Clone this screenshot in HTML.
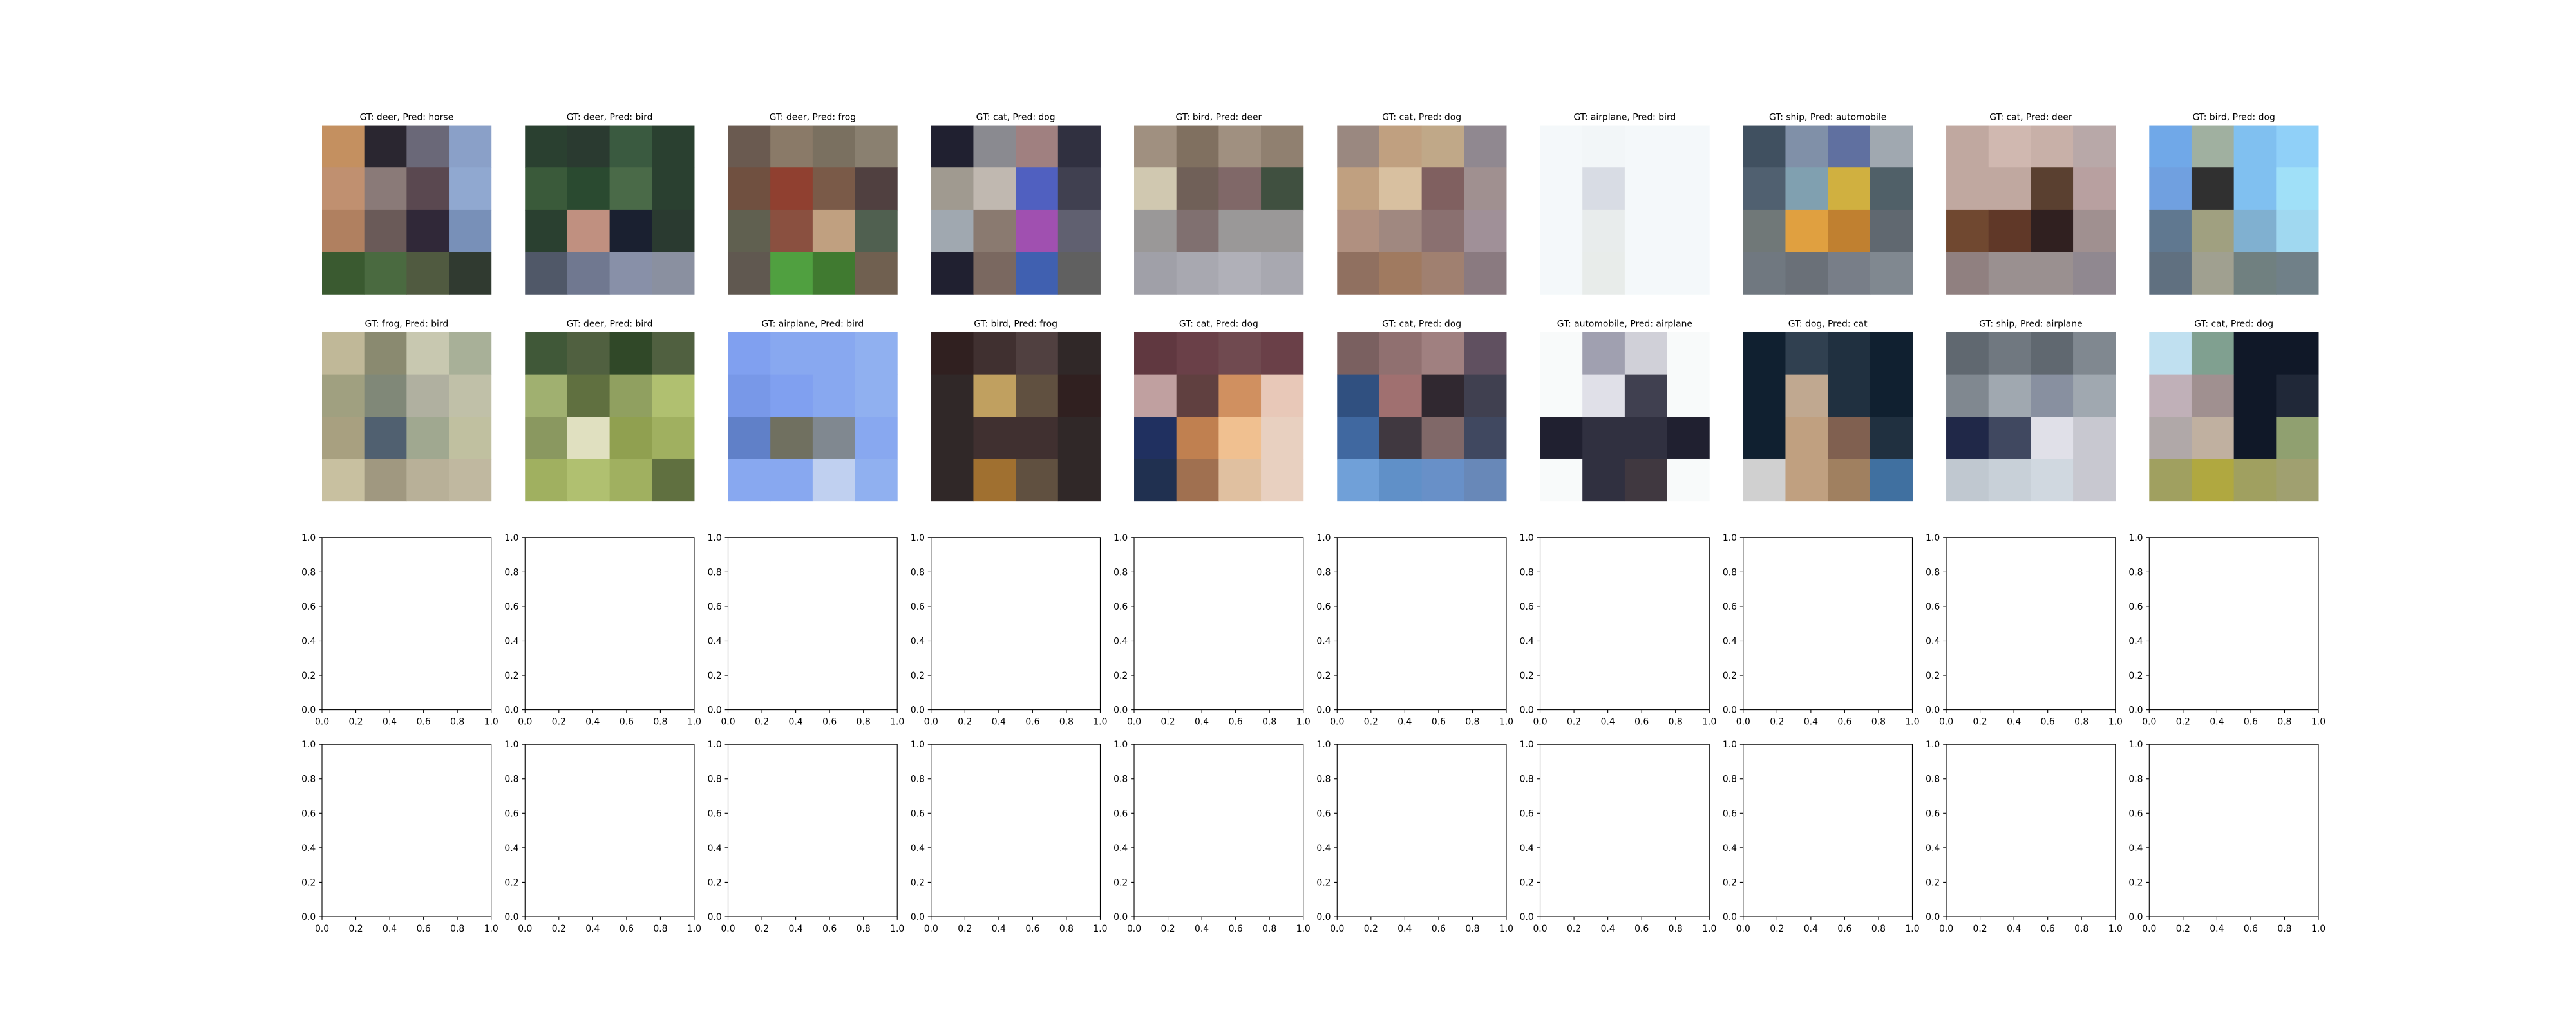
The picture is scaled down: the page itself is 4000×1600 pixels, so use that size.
<!DOCTYPE html>
<html><head><meta charset="utf-8"><title>Misclassified samples</title>
<style>html,body{margin:0;padding:0;background:#fff}svg{display:block}text{font-family:"DejaVu Sans","Liberation Sans",sans-serif;font-size:13.9px;fill:#000}</style>
</head><body>
<svg id="fig" width="4000" height="1600" viewBox="0 0 4000 1600" xmlns="http://www.w3.org/2000/svg"></svg>
<script>
const titles = [
"GT: deer, Pred: horse","GT: deer, Pred: bird","GT: deer, Pred: frog","GT: cat, Pred: dog","GT: bird, Pred: deer",
"GT: cat, Pred: dog","GT: airplane, Pred: bird","GT: ship, Pred: automobile","GT: cat, Pred: deer","GT: bird, Pred: dog",
"GT: frog, Pred: bird","GT: deer, Pred: bird","GT: airplane, Pred: bird","GT: bird, Pred: frog","GT: cat, Pred: dog",
"GT: cat, Pred: dog","GT: automobile, Pred: airplane","GT: dog, Pred: cat","GT: ship, Pred: airplane","GT: cat, Pred: dog"];
const xTicks = [0.0,0.2,0.4,0.6,0.8,1.0];
const yTicks = [0.0,0.2,0.4,0.6,0.8,1.0];
const tickLabels = ["0.0","0.2","0.4","0.6","0.8","1.0"];
const imgColors = [
[["#c49060","#2a2630","#6a6878","#8aa0c8"],["#c09070","#8a7a78","#5a4850","#90a8d0"],["#b08060","#6a5a58","#302838","#7890b8"],["#3a5a30","#4a6a40","#505a40","#303a30"]],
[["#2a4030","#2a3a30","#3a5a40","#2a4030"],["#3a5a3a","#2a4a30","#4a6a48","#2a4030"],["#2a4030","#c09080","#1a2030","#2a3a30"],["#505868","#707890","#8890a8","#8a90a0"]],
[["#6a5a50","#8a7a68","#7a7060","#8a8070"],["#705040","#904030","#7a5a48","#504040"],["#606050","#8a5040","#c0a080","#506050"],["#605850","#50a040","#407a30","#706050"]],
[["#202030","#8a8a90","#a08080","#303040"],["#a09a90","#c0b8b0","#5060c0","#404050"],["#a0a8b0","#8a7a70","#a050b0","#606070"],["#202030","#7a6860","#4060b0","#606060"]],
[["#a09080","#807060","#a09080","#908070"],["#d0c8b0","#706058","#806868","#405040"],["#9a9898","#807070","#9a9898","#9a9898"],["#a0a0a8","#a8a8b0","#b0b0b8","#a8a8b0"]],
[["#9a8880","#c0a080","#c0a888","#908890"],["#c0a080","#d8c0a0","#806060","#a09090"],["#b09080","#a08880","#8a7070","#a09098"],["#907060","#a07a60","#a08070","#8a7a80"]],
[["#f4f8fa","#f2f6f8","#f4f8fa","#f4f8fa"],["#f4f8fa","#d8dce4","#f4f8fa","#f4f8fa"],["#f4f8fa","#e8ecec","#f4f8fa","#f4f8fa"],["#f4f8fa","#e8ecea","#f4f8fa","#f4f8fa"]],
[["#405060","#8090a8","#6070a0","#a0a8b0"],["#506070","#80a0b0","#d0b040","#506068"],["#707878","#e0a040","#c08030","#606870"],["#707880","#6a7078","#787e88","#808890"]],
[["#c0a8a0","#d0b8b0","#c8b0a8","#b8a8a8"],["#c0a8a0","#c0a8a0","#5a4030","#b8a0a0"],["#704830","#603828","#302020","#a09090"],["#908080","#9a9090","#9a9090","#908890"]],
[["#70a8e8","#a0b0a0","#80c0f0","#90d0f8"],["#70a0e0","#303030","#80c0f0","#a0e0f8"],["#607890","#a0a080","#80b0d0","#a0d8f0"],["#607080","#a0a090","#708080","#708088"]],
[["#c0b898","#8a8a70","#c8c8b0","#a8b098"],["#a0a080","#808878","#b0b0a0","#c0c0a8"],["#a8a080","#506070","#a0a890","#c0c0a0"],["#c8c0a0","#a09880","#b8b098","#c0b8a0"]],
[["#405838","#506040","#304828","#506040"],["#a0b070","#607040","#90a060","#b0c070"],["#8a9860","#e0e0c0","#90a050","#a0b060"],["#a0b060","#b0c070","#a0b060","#607040"]],
[["#80a0f0","#88a8f0","#88a8f0","#90b0f0"],["#7898e8","#80a0f0","#88a8f0","#90b0f0"],["#6080c8","#707060","#808890","#88a8f0"],["#88a8f0","#88a8f0","#c0d0f0","#90b0f0"]],
[["#302020","#403030","#504040","#302828"],["#302828","#c0a060","#605040","#302020"],["#302828","#403030","#403030","#302828"],["#302828","#a07030","#605040","#302828"]],
[["#603840","#6a4048","#704a50","#6a4048"],["#c0a0a0","#604040","#d09060","#e8c8b8"],["#203060","#c08050","#f0c090","#e8d0c0"],["#203050","#a07050","#e0c0a0","#e8d0c0"]],
[["#7a6060","#907070","#a08080","#605060"],["#305080","#a07070","#302830","#404050"],["#4068a0","#403840","#806868","#404860"],["#70a0d8","#6090c8","#6890c8","#6888b8"]],
[["#f8fafa","#a0a0b0","#d0d0d8","#f8fafa"],["#f8fafa","#e0e0e8","#404050","#f8fafa"],["#202030","#303040","#303040","#202030"],["#f8fafa","#303040","#403840","#f8fafa"]],
[["#102030","#304050","#203040","#102030"],["#102030","#c0a890","#203040","#102030"],["#102030","#c0a080","#806050","#203040"],["#d0d0d0","#c0a080","#a08060","#4070a0"]],
[["#606870","#707880","#606870","#808890"],["#808890","#a0a8b0","#8890a0","#a0a8b0"],["#202848","#404860","#e0e0e8","#c8c8d0"],["#c0c8d0","#c8d0d8","#d0d8e0","#c8c8d0"]],
[["#c0e0f0","#80a090","#101828","#101828"],["#c0b0b8","#a09090","#101828","#202838"],["#b0a8a8","#c0b0a0","#101828","#90a070"],["#a0a060","#b0a840","#a0a060","#a0a070"]]];

const NS="http://www.w3.org/2000/svg";
const svg=document.getElementById('fig');
function mk(tag,attrs,parent){const e=document.createElementNS(NS,tag);for(const k in attrs)e.setAttribute(k,attrs[k]);(parent||svg).appendChild(e);return e;}
const L=500,R=3600,T=192,B=1424,nc=10,nr=4,ws=0.2,hs=0.2;
const aw=(R-L)/(nc+(nc-1)*ws), ah=(B-T)/(nr+(nr-1)*hs);
function colX(c){return L+c*aw*(1+ws);}
function rowY(r){return T+r*ah*(1+hs);}

// image panels
for(let i=0;i<20;i++){
  const r=Math.floor(i/10), c=i%10;
  const x0=colX(c), y0=rowY(r)+(ah-aw)/2, s=aw;
  const g=mk('g',{});
  
  
  const grid=imgColors[i], n=grid.length, cs=s/n;
  for(let yy=0;yy<n;yy++)for(let xx=0;xx<n;xx++){
    const rc=mk('rect',{x:x0+xx*cs,y:y0+yy*cs,width:cs+0.5,height:cs+0.5,fill:grid[yy][xx]},g);
    
    
  }
  const t=mk('text',{x:x0+s/2,y:y0-8.3,'text-anchor':'middle'},g);
  
  
  t.textContent=titles[i];
}

// empty axes panels
for(let r=2;r<4;r++)for(let c=0;c<nc;c++){
  const x0=colX(c), y0=rowY(r);
  const g=mk('g',{});
  
  
  const xs=v=>x0+v*aw, ys=v=>y0+ah-v*ah;
  const fr=mk('rect',{x:x0,y:y0,width:aw,height:ah,fill:'none',stroke:'#000','stroke-width':1.1},g);
  
  
  xTicks.forEach((v,k)=>{
    const X=xs(v);
    const tk=mk('line',{x1:X,x2:X,y1:y0+ah,y2:y0+ah+4.9,stroke:'#000','stroke-width':1.1},g);
    
    
    const tl=mk('text',{x:X,y:y0+ah+4.9+4.9+13,'text-anchor':'middle'},g);
    
    
    tl.textContent=tickLabels[k];
  });
  yTicks.forEach((v,k)=>{
    const Y=ys(v);
    const tk=mk('line',{x1:x0-4.9,x2:x0,y1:Y,y2:Y,stroke:'#000','stroke-width':1.1},g);
    
    
    const tl=mk('text',{x:x0-9.8,y:Y+5,'text-anchor':'end'},g);
    
    
    tl.textContent=tickLabels[k];
  });
}
</script>
</body></html>
